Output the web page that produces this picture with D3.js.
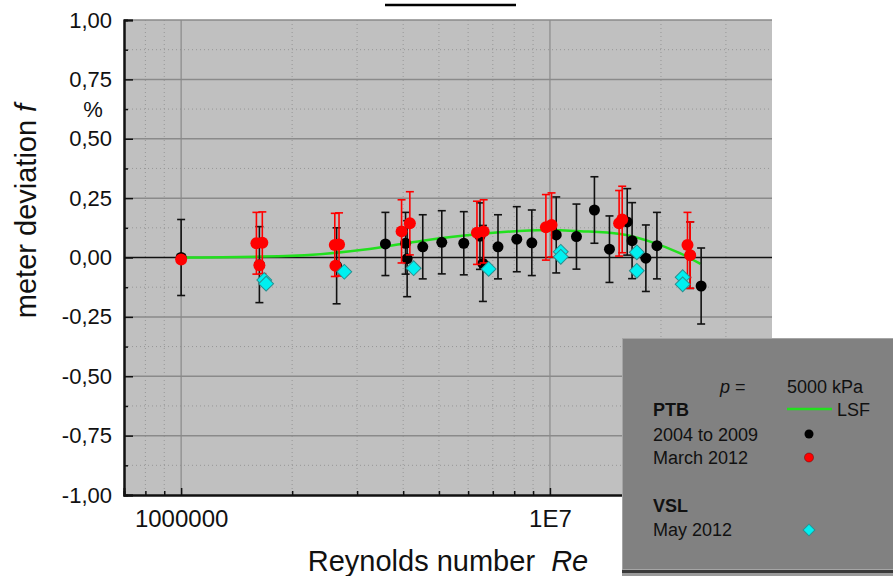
<!DOCTYPE html>
<html>
<head>
<meta charset="utf-8">
<script src="https://cdn.jsdelivr.net/npm/d3@7"></script>
<style>
  body { margin: 0; background: #fff; }
  svg { display: block; font-family: "Liberation Sans", Arial, sans-serif; }
</style>
</head>
<body>
<div id="chart"></div>
<script>
// PTB 2004 to 2009 (black)
const ptbRe  = [1.0e6, 1.63e6, 2.64e6, 3.58e6, 4.06e6, 4.1e6, 4.52e6, 5.09e6, 5.84e6, 6.46e6, 6.58e6, 7.23e6,
                8.13e6, 8.93e6, 1.04e7, 1.18e7, 1.32e7, 1.45e7, 1.62e7, 1.67e7, 1.82e7, 1.95e7, 2.40e7, 2.57e7];
const ptbF   = [0.0, -0.03, -0.035, 0.057, 0.06, -0.005, 0.045, 0.064, 0.06, 0.09, -0.025, 0.045,
                0.077, 0.062, 0.095, 0.088, 0.2, 0.035, 0.15, 0.071, -0.003, 0.05, 0.01, -0.12];
const ptbU   = [0.16, 0.16, 0.16, 0.133, 0.13, 0.16, 0.135, 0.133, 0.133, 0.14, 0.16, 0.135,
                0.137, 0.138, 0.16, 0.137, 0.14, 0.14, 0.14, 0.16, 0.14, 0.14, 0.14, 0.16];
// PTB March 2012 (red)
const marRe  = [1.0e6, 1.60e6, 1.66e6, 1.63e6, 2.61e6, 2.68e6, 2.62e6, 3.96e6, 4.17e6, 6.34e6, 6.61e6,
                9.75e6, 1.01e7, 1.54e7, 1.57e7, 2.36e7, 2.40e7];
const marF   = [-0.008, 0.06, 0.062, -0.033, 0.053, 0.055, -0.035, 0.11, 0.144, 0.104, 0.11,
                0.127, 0.137, 0.144, 0.16, 0.053, 0.01];
const marU   = [0, 0.13, 0.13, 0, 0.133, 0.133, 0, 0.133, 0.133, 0.133, 0.133,
                0.138, 0.135, 0.138, 0.14, 0.137, 0.14];
// VSL May 2012 (cyan)
const vslRe  = [1.68e6, 1.70e6, 2.77e6, 4.27e6, 6.82e6, 1.07e7, 1.07e7, 1.72e7, 1.72e7, 2.29e7, 2.29e7];
const vslF   = [-0.095, -0.11, -0.06, -0.045, -0.048, 0.024, 0.003, 0.022, -0.056, -0.083, -0.113];
// least squares fit
const lsfRe  = [1.0e6, 1.92e6, 3.24e6, 4.52e6, 6.46e6, 9.75e6, 1.21e7, 1.55e7, 1.87e7, 2.25e7, 2.56e7];
const lsfF   = [0.0, 0.006, 0.036, 0.071, 0.099, 0.116, 0.111, 0.099, 0.067, 0.018, -0.027];

const yTicks = [-1, -0.75, -0.5, -0.25, 0, 0.25, 0.5, 0.75, 1];
const yMinor = [-0.875, -0.625, -0.375, -0.125, 0.125, 0.375, 0.625, 0.875];
const xTicks = [1e6, 1e7];
const xTickLabels = ["1000000", "1E7"];
const xMinor = [8e5, 9e5, 2e6, 3e6, 4e6, 5e6, 6e6, 7e6, 8e6, 9e6, 2e7, 3e7];

const width = 893, height = 576;
const pLeft = 124, pRight = 772, pTop = 20, pBottom = 495;

const svg = d3.select("#chart").append("svg")
  .attr("width", width).attr("height", height);

const x = d3.scaleLog().domain([7e5, 4e7]).range([pLeft, pRight]);
const y = d3.scaleLinear().domain([-1, 1]).range([pBottom, pTop]);

// title, cut off at the top of the picture like in the original
svg.append("text")
  .attr("x", 450).attr("y", -1)
  .attr("text-anchor", "middle")
  .attr("font-size", 22).attr("font-weight", "bold")
  .text("PTB - VSL");
svg.append("line")
  .attr("x1", 385).attr("x2", 516).attr("y1", 5).attr("y2", 5)
  .attr("stroke", "#000").attr("stroke-width", 2.5);

// plot background
svg.append("rect")
  .attr("x", pLeft).attr("y", pTop)
  .attr("width", pRight - pLeft).attr("height", pBottom - pTop)
  .attr("fill", "#c0c0c0");

// grid
const grid = svg.append("g");
grid.selectAll(".hmin").data(yMinor).enter().append("line")
  .attr("x1", pLeft).attr("x2", pRight)
  .attr("y1", d => y(d)).attr("y2", d => y(d))
  .attr("stroke", "#969696").attr("stroke-dasharray", "1,3");
grid.selectAll(".vmin").data(xMinor).enter().append("line")
  .attr("x1", d => x(d)).attr("x2", d => x(d))
  .attr("y1", pTop).attr("y2", pBottom)
  .attr("stroke", "#969696").attr("stroke-dasharray", "1,3");
grid.selectAll(".hmaj").data(yTicks.filter(d => d !== 0 && d !== -1)).enter().append("line")
  .attr("x1", pLeft).attr("x2", pRight)
  .attr("y1", d => y(d)).attr("y2", d => y(d))
  .attr("stroke", "#8a8a8a").attr("stroke-width", 1.5);
grid.selectAll(".vmaj").data(xTicks).enter().append("line")
  .attr("x1", d => x(d)).attr("x2", d => x(d))
  .attr("y1", pTop).attr("y2", pBottom)
  .attr("stroke", "#8a8a8a").attr("stroke-width", 1.2);

// zero line
svg.append("line")
  .attr("x1", pLeft).attr("x2", pRight)
  .attr("y1", y(0)).attr("y2", y(0))
  .attr("stroke", "#111").attr("stroke-width", 1.6);

// axes
const yAxis = svg.append("g")
  .attr("transform", "translate(" + pLeft + ",0)")
  .call(d3.axisLeft(y).tickValues(yTicks).tickSize(-9).tickPadding(12)
    .tickFormat(d => d3.format(".2f")(d).replace(".", ",").replace("−", "-")));
svg.append("g")
  .attr("transform", "translate(" + pLeft + ",0)")
  .call(d3.axisLeft(y).tickValues(yMinor).tickSize(-4).tickFormat(""));

const xAxis = svg.append("g")
  .attr("transform", "translate(0," + pBottom + ")")
  .call(d3.axisBottom(x).tickValues(xTicks).tickSize(-7).tickPadding(15)
    .tickFormat((d, i) => xTickLabels[i]));
svg.append("g")
  .attr("transform", "translate(0," + pBottom + ")")
  .call(d3.axisBottom(x).tickValues(xMinor).tickSize(-4).tickFormat(""));

svg.selectAll(".domain").attr("stroke", "#111").attr("stroke-width", 2);
svg.selectAll(".tick line").attr("stroke", "#111").attr("stroke-width", 1.5);
yAxis.selectAll("text").attr("font-size", 22).attr("fill", "#111")
  .attr("font-family", "Liberation Sans, Arial, sans-serif");
xAxis.selectAll("text").attr("font-size", 24).attr("fill", "#111")
  .attr("font-family", "Liberation Sans, Arial, sans-serif");

// axis titles
svg.append("text")
  .attr("x", 93).attr("y", 117)
  .attr("text-anchor", "middle")
  .attr("font-size", 22).attr("fill", "#111")
  .text("%");

const yTitle = svg.append("text")
  .attr("transform", "translate(36,211) rotate(-90)")
  .attr("text-anchor", "middle")
  .attr("font-size", 29).attr("fill", "#111");
yTitle.append("tspan").text("meter deviation ");
yTitle.append("tspan").attr("font-style", "italic").text("f");

const xTitle = svg.append("text")
  .attr("x", 448).attr("y", 571)
  .attr("text-anchor", "middle")
  .attr("font-size", 29).attr("fill", "#111")
  .attr("xml:space", "preserve");
xTitle.append("tspan").text("Reynolds number  ");
xTitle.append("tspan").attr("font-style", "italic").text("Re");

// LSF line
const line = d3.line()
  .x((d, i) => x(lsfRe[i]))
  .y(d => y(d))
  .curve(d3.curveMonotoneX);
svg.append("path")
  .datum(lsfF)
  .attr("d", line)
  .attr("fill", "none")
  .attr("stroke", "#22e01e")
  .attr("stroke-width", 2.5);

// error bars
function errorBars(res, fs, us, color) {
  const g = svg.append("g").attr("stroke", color).attr("stroke-width", 1.6);
  const idx = d3.range(res.length).filter(i => us[i] > 0);
  g.selectAll(".v").data(idx).enter().append("line")
    .attr("x1", i => x(res[i])).attr("x2", i => x(res[i]))
    .attr("y1", i => y(fs[i] + us[i])).attr("y2", i => y(fs[i] - us[i]));
  [1, -1].forEach(s => {
    g.selectAll(".c" + s).data(idx).enter().append("line")
      .attr("x1", i => x(res[i]) - 4).attr("x2", i => x(res[i]) + 4)
      .attr("y1", i => y(fs[i] + s * us[i])).attr("y2", i => y(fs[i] + s * us[i]));
  });
}

function dots(res, fs, color, r) {
  svg.append("g").selectAll("circle").data(fs).enter().append("circle")
    .attr("cx", (d, i) => x(res[i]))
    .attr("cy", d => y(d))
    .attr("r", r)
    .attr("fill", color);
}

errorBars(ptbRe, ptbF, ptbU, "#111");
dots(ptbRe, ptbF, "#000", 5.5);
errorBars(marRe, marF, marU, "#ff0000");
dots(marRe, marF, "#ff0000", 6);

const diamond = d3.symbol().type(d3.symbolSquare).size(110);
svg.append("g").selectAll("path").data(vslF).enter().append("path")
  .attr("d", diamond)
  .attr("transform", (d, i) => "translate(" + x(vslRe[i]) + "," + y(d) + ") rotate(45)")
  .attr("fill", "#00f0f0")
  .attr("stroke", "#2a8f8f")
  .attr("stroke-width", 1);

// legend box
const lg = svg.append("g");
lg.append("rect")
  .attr("x", 622).attr("y", 570).attr("width", 271).attr("height", 6)
  .attr("fill", "#9a9a9a");
lg.append("rect")
  .attr("x", 622).attr("y", 569).attr("width", 271).attr("height", 4)
  .attr("fill", "#3a3a3a");
lg.append("rect")
  .attr("x", 622.5).attr("y", 338.5).attr("width", 280).attr("height", 231)
  .attr("fill", "#818181").attr("stroke", "#a5a5a5").attr("stroke-width", 1);

const lt = (xx, yy, txt) => lg.append("text")
  .attr("x", xx).attr("y", yy)
  .attr("font-size", 18).attr("fill", "#111")
  .text(txt);

const pLabel = lg.append("text").attr("x", 720).attr("y", 393)
  .attr("font-size", 18).attr("fill", "#111");
pLabel.append("tspan").attr("font-style", "italic").text("p");
pLabel.append("tspan").text(" =");
lt(787, 393, "5000 kPa");
lt(653, 416, "PTB").attr("font-weight", "bold");
lg.append("line")
  .attr("x1", 787).attr("x2", 832).attr("y1", 409).attr("y2", 409)
  .attr("stroke", "#22e01e").attr("stroke-width", 2.5);
lt(837, 416, "LSF");
lt(653, 441, "2004 to 2009");
lg.append("circle").attr("cx", 809).attr("cy", 434).attr("r", 4.5).attr("fill", "#000");
lt(653, 464, "March 2012");
lg.append("circle").attr("cx", 809).attr("cy", 457.5).attr("r", 4.5)
  .attr("fill", "#ff0000").attr("stroke", "#600").attr("stroke-width", 0.5);
lt(653, 512, "VSL").attr("font-weight", "bold");
lt(653, 536, "May 2012");
lg.append("path")
  .attr("d", d3.symbol().type(d3.symbolSquare).size(70))
  .attr("transform", "translate(809,530) rotate(45)")
  .attr("fill", "#00f0f0").attr("stroke", "#2a8f8f").attr("stroke-width", 1);
</script>
</body>
</html>
